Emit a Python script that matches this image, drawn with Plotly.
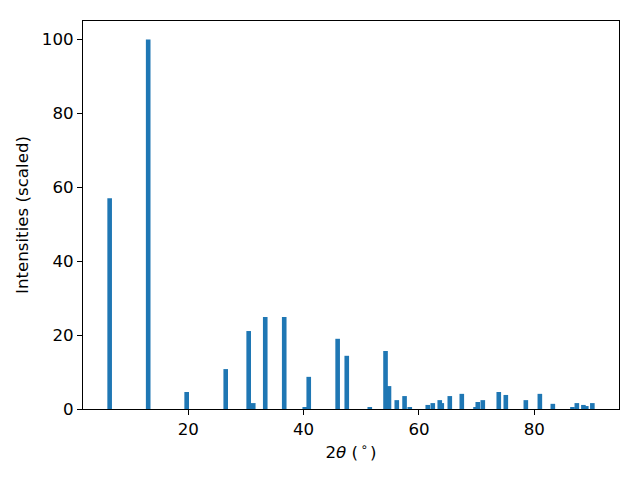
import plotly.graph_objects as go

two_theta = [6.38, 13.06, 19.73, 26.5, 30.48, 31.27, 33.35, 36.64, 40.2, 40.89,
             45.9, 47.48, 51.47, 54.2, 54.8, 56.15, 57.5, 58.4, 61.52, 62.39,
             63.6, 63.95, 65.34, 67.42, 69.8, 70.19, 71.06, 73.83, 75.05, 78.52,
             80.95, 83.2, 86.6, 87.36, 88.5, 89.0, 90.05]
intensity = [57, 100, 4.6, 10.8, 21.1, 1.6, 24.9, 24.9, 0.5, 8.7,
             19.0, 14.4, 0.3, 15.7, 6.2, 2.4, 3.5, 0.3, 1.1, 1.6,
             2.4, 1.6, 3.5, 4.1, 0.3, 1.9, 2.4, 4.6, 3.8, 2.4,
             4.1, 1.4, 0.3, 1.6, 1.1, 0.8, 1.6]
x_ticks = [20, 40, 60, 80]
y_ticks = [0, 20, 40, 60, 80, 100]

fig = go.Figure(go.Bar(x=two_theta, y=intensity, width=0.8,
                       marker=dict(color="#1f77b4", line=dict(width=0))))

font = dict(family="DejaVu Sans", size=16.67, color="black")
axis_common = dict(showgrid=False, zeroline=False, showline=True, linecolor="black",
                   linewidth=1.1, mirror=True, ticks="outside", ticklen=5,
                   tickwidth=1.1, tickcolor="black", tickfont=font)

fig.update_layout(
    width=632, height=472,
    margin=dict(l=75, r=21, t=13, b=71),
    paper_bgcolor="white", plot_bgcolor="white",
    barmode="overlay", showlegend=False, font=font,
    xaxis=dict(range=[1.76, 94.67], tickvals=x_ticks,
               title=dict(text="2<i>θ</i> (<sup>\u2009\u2218\u2009</sup>)", font=font, standoff=8),
               **axis_common),
    yaxis=dict(range=[0, 105], tickvals=y_ticks,
               title=dict(text="Intensities (scaled)", font=font, standoff=8),
               **axis_common),
)

fig.write_html("out.html")
